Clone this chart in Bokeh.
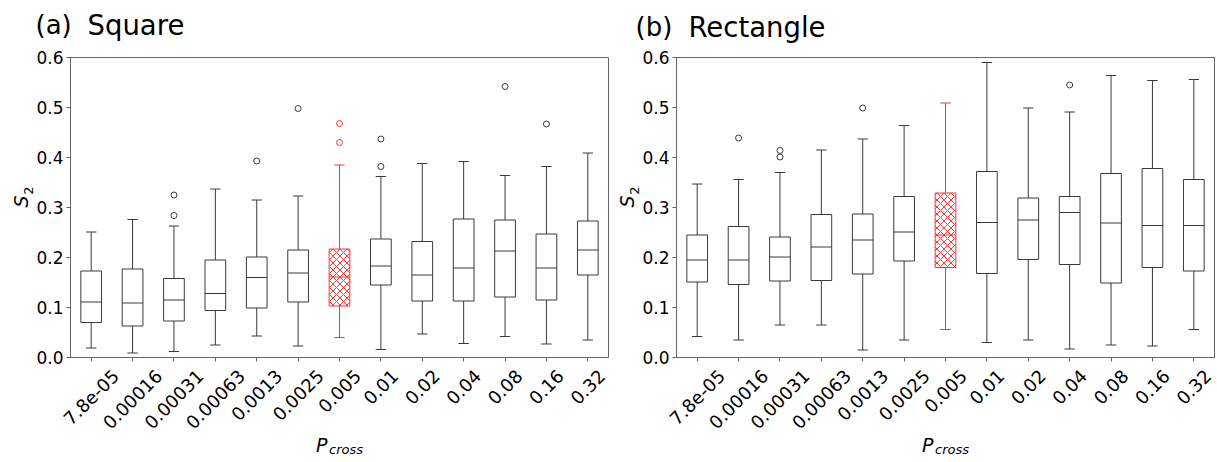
import math
from bokeh.plotting import figure
from bokeh.models import (ColumnDataSource, Range1d, FixedTicker, PrintfTickFormatter,
                          CustomJSTickFormatter)
from bokeh.core.properties import value
from bokeh.transform import dodge
from bokeh.layouts import row
from bokeh.embed import file_html
from bokeh.resources import INLINE

# ---------------- data ----------------
categories = ["7.8e-05", "0.00016", "0.00031", "0.00063", "0.0013", "0.0025", "0.005",
              "0.01", "0.02", "0.04", "0.08", "0.16", "0.32"]
highlight = "0.005"
y_ticks = [0.0, 0.1, 0.2, 0.3, 0.4, 0.5, 0.6]

# (a) Square
sq_whislo = [0.019, 0.009, 0.012, 0.025, 0.043, 0.023, 0.040, 0.016, 0.047, 0.028, 0.042, 0.027, 0.035]
sq_q1     = [0.070, 0.063, 0.073, 0.094, 0.099, 0.111, 0.103, 0.145, 0.113, 0.113, 0.121, 0.115, 0.165]
sq_med    = [0.111, 0.109, 0.115, 0.128, 0.160, 0.169, 0.161, 0.183, 0.165, 0.179, 0.213, 0.179, 0.215]
sq_q3     = [0.173, 0.177, 0.158, 0.195, 0.201, 0.215, 0.217, 0.237, 0.232, 0.277, 0.275, 0.247, 0.273]
sq_whishi = [0.251, 0.276, 0.263, 0.337, 0.315, 0.323, 0.385, 0.362, 0.388, 0.392, 0.364, 0.382, 0.409]
sq_out_cat = ["0.00031", "0.00031", "0.0013", "0.0025", "0.005", "0.005", "0.01", "0.01", "0.08", "0.16"]
sq_out_val = [0.284, 0.325, 0.393, 0.498, 0.430, 0.468, 0.382, 0.437, 0.542, 0.467]

# (b) Rectangle
re_whislo = [0.042, 0.035, 0.065, 0.065, 0.015, 0.035, 0.056, 0.030, 0.035, 0.017, 0.025, 0.023, 0.056]
re_q1     = [0.151, 0.146, 0.153, 0.154, 0.167, 0.193, 0.180, 0.168, 0.196, 0.186, 0.149, 0.180, 0.173]
re_med    = [0.195, 0.195, 0.201, 0.221, 0.235, 0.251, 0.245, 0.270, 0.275, 0.290, 0.269, 0.264, 0.264]
re_q3     = [0.245, 0.262, 0.241, 0.286, 0.287, 0.322, 0.329, 0.372, 0.319, 0.322, 0.368, 0.378, 0.356]
re_whishi = [0.347, 0.356, 0.370, 0.415, 0.437, 0.464, 0.509, 0.590, 0.499, 0.491, 0.564, 0.554, 0.556]
re_out_cat = ["0.00016", "0.00031", "0.00031", "0.0013", "0.04"]
re_out_val = [0.439, 0.401, 0.414, 0.499, 0.545]

# ---------------- styling ----------------
FONT = "DejaVu Sans"
BLACK = "#3a3a3a"
RED = "#ff3535"
SPINE = "#666666"
FIG_H = 462
FRAME_H = 302
CHAR_W = {".": 0.318, "e": 0.615, "-": 0.361}


def text_width(s, size):
    return sum(CHAR_W.get(c, 0.636) for c in s) * size


def make_panel(width, frame_left, frame_w, frame_top, letter, name, letter_px, name_px, title_mid,
               whislo, q1, med, q3, whishi, out_cat, out_val):
    border_right = width - frame_left - frame_w
    p = figure(width=width, height=FIG_H, output_backend="svg", toolbar_location=None,
               x_range=Range1d(0.5, 13.5), y_range=Range1d(0, 0.6),
               min_border_left=frame_left, min_border_right=border_right,
               min_border_top=frame_top, min_border_bottom=FIG_H - frame_top - FRAME_H)
    p.xgrid.visible = False
    p.ygrid.visible = False
    p.outline_line_color = SPINE
    p.outline_line_width = 1
    p.background_fill_color = "white"
    p.border_fill_color = "white"

    cat_w = frame_w / 13.0

    def px2x(px):
        return 0.5 + (px - frame_left) / cat_w

    def px2y(py):
        return 0.6 - (py - frame_top) / FRAME_H * 0.6

    def txt(x, y, s, size, italic=False, align="left", angle=0.0):
        p.text(x=[x], y=[y], text=[s], angle=angle, text_font=value(FONT),
               text_font_size=value(size), text_font_style="italic" if italic else "normal",
               text_align=align, text_baseline="middle", text_color="black", level="overlay")

    n = len(categories)
    xs = [i + 1 for i in range(n)]
    hl = categories.index(highlight)
    normal = [i for i in range(n) if i != hl]

    def src(idx):
        return ColumnDataSource(dict(
            x=[xs[i] for i in idx],
            lo=[whislo[i] for i in idx], q1=[q1[i] for i in idx], med=[med[i] for i in idx],
            q3=[q3[i] for i in idx], hi=[whishi[i] for i in idx]))

    for idx, col, hatch in ((normal, BLACK, None), ([hl], RED, "diagonal_cross")):
        s = src(idx)
        if hatch:
            p.quad(left=dodge("x", -0.25), right=dodge("x", 0.25), bottom="q1", top="q3", source=s,
                   fill_color="white", line_color=col, line_width=1,
                   hatch_pattern=hatch, hatch_color=col, hatch_scale=7, hatch_weight=1)
        else:
            p.quad(left=dodge("x", -0.25), right=dodge("x", 0.25), bottom="q1", top="q3", source=s,
                   fill_color=None, line_color=col, line_width=1)
        p.segment(x0=dodge("x", -0.25), x1=dodge("x", 0.25), y0="med", y1="med", source=s,
                  line_color=col, line_width=1)
        p.segment(x0="x", x1="x", y0="q3", y1="hi", source=s, line_color=col, line_width=1)
        p.segment(x0="x", x1="x", y0="q1", y1="lo", source=s, line_color=col, line_width=1)
        p.segment(x0=dodge("x", -0.125), x1=dodge("x", 0.125), y0="hi", y1="hi", source=s,
                  line_color=col, line_width=1)
        p.segment(x0=dodge("x", -0.125), x1=dodge("x", 0.125), y0="lo", y1="lo", source=s,
                  line_color=col, line_width=1)

    ox = [categories.index(c) + 1 for c in out_cat]
    ocol = [RED if c == highlight else BLACK for c in out_cat]
    p.scatter(x=ox, y=out_val, marker="circle", size=6, fill_color=None,
              line_color=ocol, line_width=1)

    # axes
    p.xaxis.ticker = FixedTicker(ticks=xs)
    p.xaxis.formatter = CustomJSTickFormatter(code="return ''")
    p.yaxis.ticker = FixedTicker(ticks=y_ticks)
    p.yaxis.formatter = PrintfTickFormatter(format="%.1f")
    for ax in (p.xaxis[0], p.yaxis[0]):
        ax.axis_line_color = SPINE
        ax.major_tick_line_color = SPINE
        ax.major_tick_out = 4
        ax.major_tick_in = 0
        ax.minor_tick_line_color = None
        ax.major_label_text_font = FONT
        ax.major_label_text_font_size = "17px"
        ax.major_label_text_color = "black"
    p.yaxis.major_label_standoff = 3

    # rotated category labels (bounding box centred under tick, like matplotlib)
    fs = 18
    yoff = []
    for c in categories:
        bbox_h = (text_width(c, fs) + 1.164 * fs) * math.sqrt(0.5)
        yoff.append(8 + bbox_h / 2)
    lab_src = ColumnDataSource(dict(x=xs, y=[0.0] * n, text=categories, yoff=yoff))
    p.text(x="x", y="y", text="text", y_offset="yoff", source=lab_src,
           angle=math.pi / 4, text_align="center", text_baseline="middle",
           text_font=value(FONT), text_font_size=value("18px"), text_color="black",
           level="overlay")

    # panel titles
    txt(px2x(letter_px), px2y(title_mid), letter, "26px")
    txt(px2x(name_px), px2y(title_mid), name, "27.5px")

    # y label  S_2
    txt(px2x(frame_left - 49.5), px2y(frame_top + 145), "S", "19px", italic=True,
        align="center", angle=math.pi / 2)
    txt(px2x(frame_left - 42), px2y(frame_top + 134), "2", "13px",
        align="center", angle=math.pi / 2)

    # x label  P_cross
    cx = frame_left + frame_w / 2
    txt(px2x(cx - 23.5), px2y(frame_top + FRAME_H + 88), "P", "19px", italic=True)
    txt(px2x(cx - 10.5), px2y(frame_top + FRAME_H + 93), "cross", "13px", italic=True)
    return p


p1 = make_panel(611, 70, 538, 55, "(a)", "Square", 35, 87, 22,
                sq_whislo, sq_q1, sq_med, sq_q3, sq_whishi, sq_out_cat, sq_out_val)
p2 = make_panel(606, 65, 538, 57, "(b)", "Rectangle", 24, 77, 26,
                re_whislo, re_q1, re_med, re_q3, re_whishi, re_out_cat, re_out_val)

layout = row(p1, p2, spacing=0)
open("out.html", "w").write(file_html(layout, INLINE))
